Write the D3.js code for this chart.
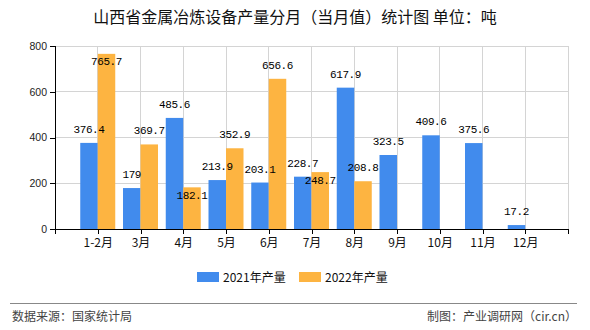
<!DOCTYPE html>
<html><head><meta charset="utf-8">
<script src="https://cdn.jsdelivr.net/npm/d3@7"></script>
<style>
html,body{margin:0;padding:0;background:#fff;}
svg{display:block;}
</style></head>
<body>
<svg id="chart" width="590" height="330"></svg>
<script>
const categories = ["1-2月","3月","4月","5月","6月","7月","8月","9月","10月","11月","12月"];
const series2021 = [376.4,179,485.6,213.9,203.1,228.7,617.9,323.5,409.6,375.6,17.2];
const series2022 = [765.7,369.7,182.1,352.9,656.6,248.7,208.8,null,null,null,null];
const seriesNames = ["2021年产量","2022年产量"];
const yTicks = [0,200,400,600,800];
const titleText = "山西省金属冶炼设备产量分月（当月值）统计图 单位：吨";
const sourceText = "数据来源：国家统计局";
const creditText = "制图：产业调研网（cir.cn）";

const colors = ["#418BED","#FDB441"];
const svg = d3.select("#chart");
const L = 55, R = 568, T = 46, B = 229;
const cjk = "'Noto Sans CJK SC','Noto Sans',sans-serif";

const x = d3.scalePoint().domain(categories).range([L,R]).padding(1);
const y = d3.scaleLinear().domain([0,800]).range([B,T]);
const barW = 17.5;

// title
svg.append("text").attr("x",295).attr("y",23).attr("text-anchor","middle")
  .style("font-family",cjk).style("font-size","16px").attr("fill","#111").text(titleText);

// horizontal grid
svg.append("g").selectAll("line").data(yTicks.filter(d=>d>0)).join("line")
  .attr("x1",L).attr("x2",R).attr("y1",d=>y(d)).attr("y2",d=>y(d))
  .attr("stroke","#d4d4d4").attr("stroke-width",1).attr("shape-rendering","crispEdges");
// vertical grid
const gridX = categories.map(c=>x(c)).concat([R]);
svg.append("g").selectAll("line").data(gridX).join("line")
  .attr("x1",d=>d).attr("x2",d=>d).attr("y1",T).attr("y2",B)
  .attr("stroke","#d4d4d4").attr("stroke-width",1).attr("shape-rendering","crispEdges");

// bars
const data = [series2021, series2022];
data.forEach((vals,si)=>{
  svg.append("g").selectAll("rect").data(categories.map((c,i)=>({c,v:vals[i]})).filter(d=>d.v!=null)).join("rect")
    .attr("x",d=>x(d.c) + (si===0 ? -barW : 0))
    .attr("y",d=>y(d.v)).attr("width",barW).attr("height",d=>B-y(d.v))
    .attr("fill",colors[si]);
});

// axes
const yAxis = d3.axisLeft(y).tickValues(yTicks).tickSize(5).tickPadding(3);
const gy = svg.append("g").attr("transform",`translate(${L},0)`).call(yAxis);
gy.select(".domain").attr("stroke","#000").attr("shape-rendering","crispEdges");
gy.selectAll(".tick line").attr("stroke","#000").attr("shape-rendering","crispEdges");
gy.selectAll(".tick text").style("font-family","'Liberation Sans',Arial,sans-serif").style("font-size","10.5px").attr("fill","#222");

const xAxis = d3.axisBottom(x).tickSize(5).tickPadding(4);
const gx = svg.append("g").attr("transform",`translate(0,${B})`).call(xAxis);
gx.select(".domain").attr("d",`M${L},0.5H${R}`).attr("stroke","#000").attr("shape-rendering","crispEdges");
gx.selectAll(".tick line").attr("stroke","#000").attr("shape-rendering","crispEdges");
gx.selectAll(".tick text").style("font-family",cjk).style("font-size","12px").attr("fill","#111");
gx.append("line").attr("x1",L).attr("x2",L).attr("y1",0).attr("y2",5).attr("stroke","#000").attr("shape-rendering","crispEdges");
gx.append("line").attr("x1",R).attr("x2",R).attr("y1",0).attr("y2",5).attr("stroke","#000").attr("shape-rendering","crispEdges");

// data labels with simple collision avoidance (series-wise)
const placed = [];
const charW = 6.1;
data.forEach((vals,si)=>{
  categories.forEach((c,i)=>{
    const v = vals[i]; if(v==null) return;
    const txt = String(v);
    const cx = x(c) + (si===0 ? -barW/2 : barW/2);
    const top = y(v);
    let base = top - 10;
    if(base - 10 < T) base = T + 19;
    const w = txt.length*charW;
    const box = b => ({x0:cx-w/2,x1:cx+w/2,y0:b-11,y1:b+1});
    const hit = bx => placed.some(p=>bx.x0<p.x1&&bx.x1>p.x0&&bx.y0<p.y1&&bx.y1>p.y0);
    if(hit(box(base))) base = top + 11.5;
    placed.push(box(base));
    svg.append("text").attr("x",cx).attr("y",base).attr("text-anchor","middle")
      .style("font-family","'Liberation Mono','DejaVu Sans Mono',monospace").style("font-size","11px")
      .style("letter-spacing","-0.4px").attr("fill","#000").text(txt);
  });
});

// legend
const lg = [{x:197,name:seriesNames[0],c:colors[0]},{x:299,name:seriesNames[1],c:colors[1]}];
lg.forEach(l=>{
  svg.append("rect").attr("x",l.x).attr("y",272).attr("width",22).attr("height",10).attr("fill",l.c);
  svg.append("text").attr("x",l.x+26).attr("y",282).style("font-family",cjk).style("font-size","12px").attr("fill","#111").text(l.name);
});

// footer
svg.append("line").attr("x1",10).attr("x2",577).attr("y1",303.5).attr("y2",303.5).attr("stroke","#888").attr("stroke-width",1);
svg.append("text").attr("x",12).attr("y",321).style("font-family",cjk).style("font-size","12px").attr("fill","#444").text(sourceText);
svg.append("text").attr("x",577).attr("y",321).attr("text-anchor","end").style("font-family",cjk).style("font-size","12px").attr("fill","#444").text(creditText);
</script>
</body></html>
